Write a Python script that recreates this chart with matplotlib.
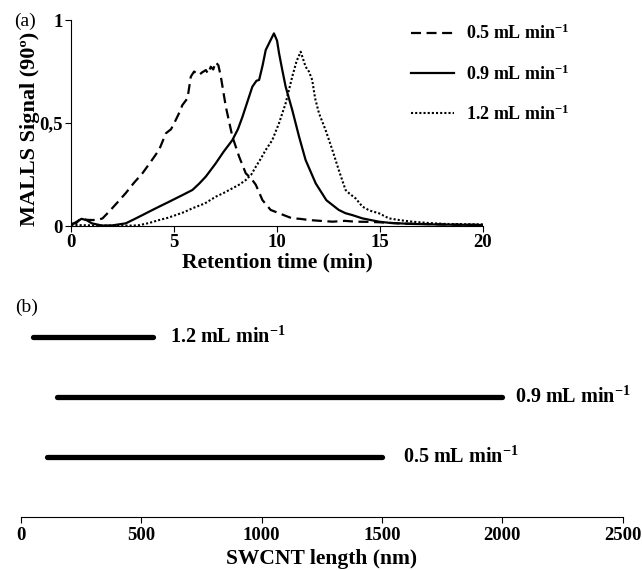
import matplotlib
matplotlib.use('Agg')
from matplotlib import pyplot as plt

plt.rcParams['font.family'] = 'Liberation Serif'
plt.rcParams['font.weight'] = 'bold'
plt.rcParams['mathtext.fontset'] = 'custom'
plt.rcParams['mathtext.rm'] = 'Liberation Serif:bold'
plt.rcParams['mathtext.default'] = 'rm'

# (a) MALLS signal vs retention time
t05 = [0, 0.25, 0.47, 0.75, 1.03, 1.3, 1.52, 1.84, 2.25, 2.65, 3.05, 3.46, 3.85, 4.27, 4.6, 4.85,
       5.08, 5.25, 5.4, 5.65, 5.81, 5.97, 6.1, 6.21, 6.35, 6.54, 6.65, 6.78, 6.9, 7.02, 7.15, 7.27,
       7.51, 7.83, 8.16, 8.48, 8.75, 8.97, 9.29, 9.69, 10.1, 10.4, 10.74, 11.1, 11.55, 12.1, 12.7,
       13.3, 13.8, 14.5, 15.0, 16, 17, 18, 19, 20]
v05 = [0.01, 0.015, 0.037, 0.03, 0.029, 0.03, 0.037, 0.07, 0.115, 0.16, 0.21, 0.256, 0.31, 0.37,
       0.45, 0.47, 0.515, 0.55, 0.587, 0.62, 0.725, 0.75, 0.74, 0.733, 0.745, 0.757, 0.74, 0.773,
       0.76, 0.795, 0.78, 0.725, 0.58, 0.434, 0.336, 0.256, 0.23, 0.2, 0.126, 0.078, 0.062, 0.05,
       0.037, 0.035, 0.029, 0.025, 0.021, 0.025, 0.021, 0.02, 0.018, 0.012, 0.01, 0.008, 0.006, 0.005]

t09 = [0, 0.25, 0.5, 0.75, 1.0, 1.5, 2.0, 2.65, 3.0, 3.46, 3.85, 4.27, 4.7, 5.08, 5.5, 5.89, 6.21,
       6.54, 7.02, 7.4, 7.83, 8.1, 8.32, 8.55, 8.8, 9.0, 9.13, 9.3, 9.45, 9.69, 9.85, 10.0, 10.1,
       10.25, 10.42, 10.74, 11.07, 11.39, 11.88, 12.4, 13.0, 13.33, 13.66, 14.15, 14.95, 15.5,
       16.57, 18, 20]
v09 = [0.005, 0.02, 0.035, 0.028, 0.013, 0.002, 0.003, 0.013, 0.03, 0.053, 0.073, 0.094, 0.115,
       0.134, 0.155, 0.175, 0.205, 0.24, 0.304, 0.36, 0.417, 0.47, 0.53, 0.6, 0.676, 0.705, 0.709,
       0.78, 0.854, 0.903, 0.935, 0.9, 0.838, 0.76, 0.676, 0.563, 0.434, 0.32, 0.207, 0.125, 0.078,
       0.062, 0.053, 0.037, 0.021, 0.015, 0.01, 0.007, 0.005]

t12 = [0, 1, 2, 3, 3.3, 3.8, 4.27, 4.7, 5.08, 5.5, 5.89, 6.5, 7.02, 7.4, 7.83, 8.15, 8.48, 8.75,
       8.97, 9.2, 9.45, 9.77, 10.1, 10.42, 10.74, 10.95, 11.15, 11.39, 11.55, 11.71, 11.85, 12.04,
       12.36, 12.69, 13.0, 13.33, 13.5, 13.82, 14.15, 14.5, 14.95, 15.44, 16.0, 16.57, 17.3, 18.2,
       19, 20]
v12 = [0.005, 0.003, 0.002, 0.002, 0.004, 0.015, 0.029, 0.04, 0.053, 0.068, 0.086, 0.11, 0.142,
       0.16, 0.183, 0.2, 0.223, 0.25, 0.288, 0.325, 0.369, 0.417, 0.5, 0.596, 0.725, 0.8, 0.846,
       0.773, 0.75, 0.709, 0.62, 0.547, 0.466, 0.369, 0.272, 0.175, 0.159, 0.134, 0.094, 0.075,
       0.062, 0.037, 0.028, 0.021, 0.015, 0.01, 0.009, 0.008]

# (b) SWCNT length ranges
flows = ['0.5 mL min$^{-1}$', '0.9 mL min$^{-1}$', '1.2 mL min$^{-1}$']
len_min = [110, 150, 50]
len_max = [1500, 2000, 550]
lbl_gap = [85, 52, 70]

fig = plt.figure(figsize=(6.42, 5.7), dpi=100)

ax1 = fig.add_axes([0.111, 0.6035, 0.641, 0.3614])
ax1.plot(t05, v05, color='black', lw=1.6, ls=(0, (4.5, 2.5)), label=flows[0])
ax1.plot(t09, v09, color='black', lw=1.6, ls='-', label=flows[1])
ax1.plot(t12, v12, color='black', lw=1.5, ls=(0, (1, 1)), label=flows[2])
ax1.set_xlim(0, 20)
ax1.set_ylim(0, 1)
ax1.set_xticks([0, 5, 10, 15, 20])
ax1.set_yticks([0, 0.5, 1])
ax1.set_yticklabels(['0', '0,5', '1'])
ax1.spines['top'].set_visible(False)
ax1.spines['right'].set_visible(False)
ax1.tick_params(labelsize=13.5, length=4, pad=2)
ax1.set_xlabel('Retention time (min)', fontsize=15.5, fontweight='bold', labelpad=1)
ax1.set_ylabel('MALLS Signal (90º)', fontsize=16, fontweight='bold')
ax1.yaxis.set_label_coords(-0.077, 0.47)
ax1.legend(loc='upper left', bbox_to_anchor=(0.64, 0.958), bbox_transform=fig.transFigure,
           frameon=False, fontsize=13, handlelength=2.4, handletextpad=0.65,
           labelspacing=1.15, borderpad=0, borderaxespad=0)

ax2 = fig.add_axes([0.0327, 0.093, 0.9373, 0.368])
for i in range(len(flows)):
    ax2.plot([len_min[i], len_max[i]], [i + 1, i + 1], color='black', lw=3.8,
             solid_capstyle='round')
    ax2.text(len_max[i] + lbl_gap[i], i + 1, flows[i], fontsize=14.5, fontweight='bold',
             va='center', ha='left')
ax2.set_xlim(0, 2500)
ax2.set_ylim(0, 3.5)
ax2.set_xticks([0, 500, 1000, 1500, 2000, 2500])
ax2.set_yticks([])
for s in ['top', 'right', 'left']:
    ax2.spines[s].set_visible(False)
ax2.tick_params(labelsize=13.5, length=4, pad=3)
ax2.set_xlabel('SWCNT length (nm)', fontsize=15.5, fontweight='bold', labelpad=4)

fig.text(0.022, 0.962, '(a)', fontsize=14, fontweight='normal', va='center')
fig.text(0.023, 0.46, '(b)', fontsize=14, fontweight='normal', va='center')

fig.savefig('out.png', dpi=100)
